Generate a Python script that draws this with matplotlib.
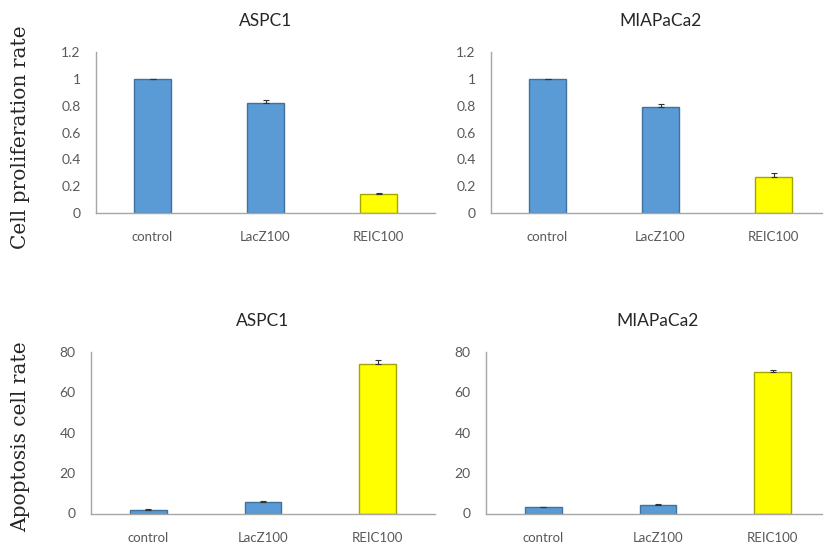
import matplotlib
matplotlib.use("Agg")
import matplotlib.pyplot as plt

# data
groups = ["control", "LacZ100", "REIC100"]
prolif_aspc1 = [1.0, 0.82, 0.14]
prolif_aspc1_err = [0.0, 0.02, 0.01]
prolif_miapaca2 = [1.0, 0.79, 0.265]
prolif_miapaca2_err = [0.0, 0.025, 0.035]
apop_aspc1 = [1.8, 5.6, 74.0]
apop_aspc1_err = [0.2, 0.4, 1.8]
apop_miapaca2 = [3.0, 4.3, 70.3]
apop_miapaca2_err = [0.2, 0.4, 0.6]

blue = "#5B9BD5"
blue_edge = "#41719C"
yellow = "#FFFF00"
yellow_edge = "#A5A500"
gray = "#595959"
spine_col = "#A6A6A6"

W, H = 823, 548
fig = plt.figure(figsize=(W / 100, H / 100), dpi=100)


def px_axes(left, top, width, height):
    return fig.add_axes([left / W, 1 - (top + height) / H, width / W, height / H])


def panel(ax, vals, errs, title, ymax, yticks, ticklabels):
    x = range(len(groups))
    cols = [blue, blue, yellow]
    edges = [blue_edge, blue_edge, yellow_edge]
    # only the plus side of the error bar is drawn (Excel style)
    ax.bar(x, vals, width=0.32, color=cols, edgecolor=edges, linewidth=1.0,
           yerr=[[0] * len(errs), errs],
           error_kw=dict(ecolor="#333333", elinewidth=0.8, capsize=2.5, capthick=0.8))
    ax.set_xlim(-0.5, 2.5)
    ax.set_ylim(0, ymax)
    ax.set_yticks(yticks)
    ax.set_yticklabels(ticklabels)
    ax.set_xticks(list(x))
    ax.set_xticklabels(groups)
    ax.tick_params(axis="y", length=0, pad=11, labelsize=10, labelcolor=gray)
    ax.tick_params(axis="x", length=0, pad=13, labelsize=9.5, labelcolor=gray)
    for s in ["top", "right"]:
        ax.spines[s].set_visible(False)
    for s in ["left", "bottom"]:
        ax.spines[s].set_color(spine_col)
        ax.spines[s].set_linewidth(1.0)
    for lab in ax.get_xticklabels() + ax.get_yticklabels():
        lab.set_family(["Lato", "DejaVu Sans"])
    ax.set_title(title, fontsize=12.5, color="#262626", family=["Lato", "DejaVu Sans"], pad=19)


p_ticks = [0, 0.2, 0.4, 0.6, 0.8, 1.0, 1.2]
p_labels = ["0", "0.2", "0.4", "0.6", "0.8", "1", "1.2"]
a_ticks = [0, 20, 40, 60, 80]
a_labels = ["0", "20", "40", "60", "80"]

ax1 = px_axes(96, 52, 339, 161)
panel(ax1, prolif_aspc1, prolif_aspc1_err, "ASPC1", 1.2, p_ticks, p_labels)
ax2 = px_axes(491, 52, 339, 161)
panel(ax2, prolif_miapaca2, prolif_miapaca2_err, "MIAPaCa2", 1.2, p_ticks, p_labels)
ax3 = px_axes(91, 352, 344, 161.5)
panel(ax3, apop_aspc1, apop_aspc1_err, "ASPC1", 80, a_ticks, a_labels)
ax4 = px_axes(486, 352, 344, 161.5)
panel(ax4, apop_miapaca2, apop_miapaca2_err, "MIAPaCa2", 80, a_ticks, a_labels)

fig.text(21 / W, 1 - 137 / H, "Cell proliferation rate", rotation=90, ha="center", va="center",
         fontsize=14.5, family="DejaVu Serif", color="#262626")
fig.text(21 / W, 1 - 437 / H, "Apoptosis cell rate", rotation=90, ha="center", va="center",
         fontsize=14.5, family="DejaVu Serif", color="#262626")

fig.savefig("out.png", dpi=100)
